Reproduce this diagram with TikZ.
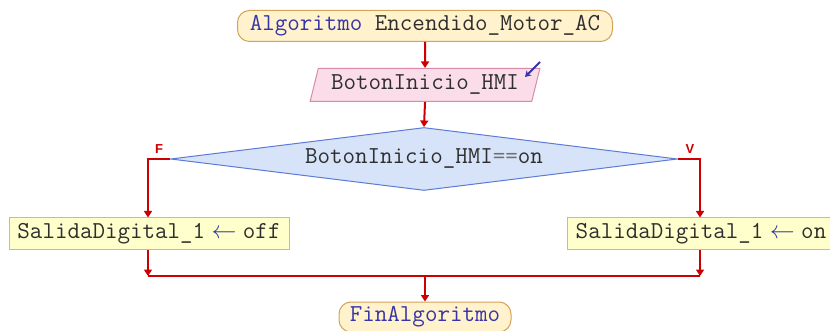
\documentclass[tikz,border=0pt]{standalone}
\usepackage{fontspec}
\setsansfont{Liberation Sans}
\usetikzlibrary{shapes.geometric,arrows.meta}

\definecolor{termfill}{HTML}{FFF2CC}
\definecolor{termdraw}{HTML}{D4A35A}
\definecolor{infill}{HTML}{FBDDE9}
\definecolor{indraw}{HTML}{D98AAB}
\definecolor{decfill}{HTML}{D6E3F8}
\definecolor{decdraw}{HTML}{5C7BD6}
\definecolor{procfill}{HTML}{FFFFCC}
\definecolor{procdraw}{HTML}{C9C36A}
\definecolor{flow}{HTML}{CC0000}
\definecolor{ident}{HTML}{2E2E2E}
\definecolor{kw}{HTML}{3535A8}
\definecolor{oper}{HTML}{707070}

\newcommand{\kw}[1]{\textcolor{kw}{#1}}
% assignment arrow, one monospace cell wide
\newcommand{\assignarrow}{\makebox[12.75pt][c]{\textcolor{kw}{$\leftarrow$}}}

\begin{document}
\begin{tikzpicture}[x=1pt,y=-1pt,
  every node/.style={font=\ttfamily\fontsize{24.3}{27}\selectfont, text=ident, inner sep=0pt},
  terminal/.style={draw=termdraw, fill=termfill, line width=1pt, rounded corners=12pt,
    minimum height=31pt},
  inputbox/.style={trapezium, trapezium left angle=70, trapezium right angle=110,
    trapezium stretches=true, draw=indraw, fill=infill, line width=1pt,
    minimum width=230pt, minimum height=33pt},
  decision/.style={diamond, shape aspect=8.05, draw=decdraw, fill=decfill, line width=1pt,
    minimum width=507pt, minimum height=63pt},
  process/.style={draw=procdraw, fill=procfill, line width=1pt, minimum height=32pt},
  flowline/.style={draw=flow, line width=2pt},
  flowarrow/.style={flowline, -{Triangle[width=8pt,length=6.5pt]}},
  branchlabel/.style={font=\sffamily\bfseries\fontsize{13}{14}\selectfont, text=flow}
]
\useasboundingbox (0,0) rectangle (830,331);
\clip (0,0) rectangle (830,331);

% blocks
\node[terminal, minimum width=375pt] (start) at (425,26)
  {\kw{Algoritmo} Encendido\_Motor\_AC};
\node[inputbox] (read) at (425,85) {BotonInicio\_HMI};
\node[decision] (cond) at (424,159)
  {BotonInicio\_HMI\textcolor{oper}{==}on};
\node[process, minimum width=280pt] (off) at (149,234)
  {SalidaDigital\_1 \assignarrow{} off};
\node[process, minimum width=268pt] (on) at (701,234)
  {SalidaDigital\_1 \assignarrow{} on};
\node[terminal, minimum width=172pt, minimum height=30pt] (stop) at (425,317)
  {\kw{FinAlgoritmo}};

% input marker on the read block
\coordinate (inA) at (540,62);
\coordinate (inB) at (525,77);
\draw[draw=kw, line width=1.8pt, -{Stealth[width=7pt,length=6pt]}] (inA) -- (inB);

% corner points of the branches
\coordinate (fcorner) at (148,159);
\coordinate (vcorner) at (700,159);
\coordinate (fjoin) at (148,276);
\coordinate (vjoin) at (700,276);
\coordinate (mjoin) at (425,276);

% connectors
\draw[flowarrow] (start.south) -- (read.north);
\draw[flowarrow] (read.south) -- (cond.north);
\draw[flowarrow] (cond.west) -- (fcorner) -- (off.north -| fcorner);
\draw[flowarrow] (cond.east) -- (vcorner) -- (on.north -| vcorner);
\draw[flowarrow] (off.south -| fjoin) -- (fjoin);
\draw[flowarrow] (on.south -| vjoin) -- (vjoin);
\draw[flowline] (fjoin) -- (vjoin);
\draw[flowarrow] (mjoin) -- (stop.north);

% branch labels
\node[branchlabel] (flabel) at (159,149) {F};
\node[branchlabel] (vlabel) at (690,149) {V};
\end{tikzpicture}
\end{document}
